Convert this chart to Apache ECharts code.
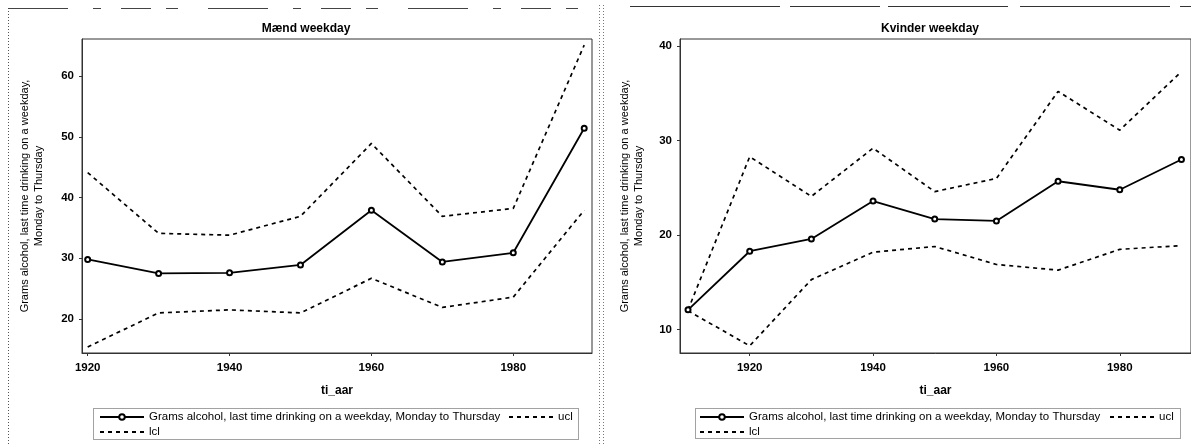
<!DOCTYPE html>
<html>
<head>
<meta charset="utf-8">
<script src="https://cdn.jsdelivr.net/npm/echarts@6/dist/echarts.min.js"></script>
<style>
html,body{margin:0;padding:0;background:#fff;}
#c{width:1191px;height:444px;}
</style>
</head>
<body>
<div id="c"></div>
<script>
// ---- data ----
const titleMen = 'Mænd weekday';
const titleWomen = 'Kvinder weekday';
const yAxisName = 'Grams alcohol, last time drinking on a weekday,\nMonday to Thursday';
const xAxisName = 'ti_aar';
const meanName = 'Grams alcohol, last time drinking on a weekday, Monday to Thursday';
const uclName = 'ucl';
const lclName = 'lcl';

const yearsMen = [1920, 1930, 1940, 1950, 1960, 1970, 1980, 1990];
const menMean = [29.8, 27.5, 27.6, 28.9, 37.9, 29.4, 30.9, 51.4];
const menUcl  = [44.1, 34.1, 33.8, 36.9, 48.9, 36.9, 38.2, 65.1];
const menLcl  = [15.4, 21.0, 21.5, 21.0, 26.7, 21.9, 23.6, 37.9];

const yearsWomen = [1910, 1920, 1930, 1940, 1950, 1960, 1970, 1980, 1990];
const womenMean = [12.1, 18.3, 19.6, 23.6, 21.7, 21.5, 25.7, 24.8, 28.0];
const womenUcl  = [12.1, 28.3, 24.1, 29.2, 24.6, 26.0, 35.2, 31.1, 37.3];
const womenLcl  = [12.0, 8.3, 15.3, 18.2, 18.8, 16.9, 16.3, 18.5, 18.9];

const xTicksMen = [1920, 1940, 1960, 1980];
const xTicksWomen = [1920, 1940, 1960, 1980];
const yTicksMen = [20, 30, 40, 50, 60];
const yTicksWomen = [10, 20, 30, 40];

// ---- chart ----
const FONT = '"Liberation Sans", Arial, sans-serif';
const pairs = (xs, ys) => xs.map((x, i) => [x, ys[i]]);

function xAxis(gridIndex, min, max, ticks) {
  return {
    type: 'value', gridIndex, min, max,
    name: xAxisName, nameLocation: 'middle', nameGap: 32,
    nameTextStyle: { fontFamily: FONT, fontSize: 12, fontWeight: 'bold', color: '#000' },
    axisLine: { show: true, onZero: false, lineStyle: { color: '#333', width: 1 } },
    axisTick: { show: true, length: 3, customValues: ticks, lineStyle: { color: '#333' } },
    axisLabel: { customValues: ticks, margin: 9, formatter: v => String(v),
      fontFamily: FONT, fontSize: 11.5, fontWeight: 'bold', color: '#000' },
    splitLine: { show: false }
  };
}
function yAxis(gridIndex, min, max, ticks, gap) {
  return {
    type: 'value', gridIndex, min, max,
    name: yAxisName, nameLocation: 'middle', nameGap: gap,
    nameTextStyle: { fontFamily: FONT, fontSize: 11, color: '#000', lineHeight: 14, align: 'center' },
    axisLine: { show: true, onZero: false, lineStyle: { color: '#333', width: 1 } },
    axisTick: { show: true, length: 3, customValues: ticks, lineStyle: { color: '#333' } },
    axisLabel: { customValues: ticks, margin: 8, formatter: v => String(v),
      fontFamily: FONT, fontSize: 11.5, fontWeight: 'bold', color: '#000' },
    splitLine: { show: false }
  };
}
function meanSeries(idx, xs, ys) {
  return {
    name: meanName, type: 'line', xAxisIndex: idx, yAxisIndex: idx,
    data: pairs(xs, ys), symbol: 'emptyCircle', symbolSize: 5,
    lineStyle: { color: '#000', width: 1.8 },
    itemStyle: { color: '#000', borderColor: '#000', borderWidth: 1.2 },
    animation: false, z: 3
  };
}
function ciSeries(name, idx, xs, ys) {
  return {
    name, type: 'line', xAxisIndex: idx, yAxisIndex: idx,
    data: pairs(xs, ys), symbol: 'none',
    lineStyle: { color: '#000', width: 1.7, type: [4, 4] },
    itemStyle: { color: '#000' },
    animation: false, z: 2
  };
}
function legend(left, top, name, hideSymbol) {
  const l = {
    left, top, padding: 0, data: [name], itemWidth: 44, itemHeight: 7, itemGap: 5,
    selectedMode: false,
    textStyle: { fontFamily: FONT, fontSize: 11.5, color: '#000' }
  };
  if (hideSymbol) l.itemStyle = { opacity: 0 };
  return l;
}

const chart = echarts.init(document.getElementById('c'), null, { renderer: 'canvas' });
chart.setOption({
  backgroundColor: '#fff',
  animation: false,
  title: [
    { text: titleMen, left: 301, top: 18, textAlign: 'center',
      textStyle: { fontFamily: FONT, fontSize: 12, fontWeight: 'bold', color: '#000' } },
    { text: titleWomen, left: 925, top: 18, textAlign: 'center',
      textStyle: { fontFamily: FONT, fontSize: 12, fontWeight: 'bold', color: '#000' } }
  ],
  grid: [
    { left: 82, right: 599, top: 39, bottom: 91, show: true, borderColor: '#333', borderWidth: 1, backgroundColor: 'transparent' },
    { left: 680, right: -1, top: 39, bottom: 91, show: true, borderColor: '#333', borderWidth: 1, backgroundColor: 'transparent' }
  ],
  xAxis: [ xAxis(0, 1919.2, 1991.1, xTicksMen), xAxis(1, 1908.7, 1991.55, xTicksWomen) ],
  yAxis: [ yAxis(0, 14.4, 66.1, yTicksMen, 36), yAxis(1, 7.54, 40.74, yTicksWomen, 34) ],
  legend: [
    legend(99, 411, meanName, false), legend(508, 411, uclName, true), legend(99, 426, lclName, true),
    legend(699, 411, meanName, false), legend(1109, 411, uclName, true), legend(699, 426, lclName, true)
  ],
  series: [
    ciSeries(uclName, 0, yearsMen, menUcl),
    ciSeries(lclName, 0, yearsMen, menLcl),
    meanSeries(0, yearsMen, menMean),
    ciSeries(uclName, 1, yearsWomen, womenUcl),
    ciSeries(lclName, 1, yearsWomen, womenLcl),
    meanSeries(1, yearsWomen, womenMean)
  ],
  graphic: [
    // legend frames
    { type: 'rect', shape: { x: 93.5, y: 408.5, width: 485, height: 31 }, style: { fill: 'none', stroke: '#444', lineWidth: 1, lineDash: [1, 1] }, silent: true },
    { type: 'rect', shape: { x: 695.5, y: 408.5, width: 485, height: 30 }, style: { fill: 'none', stroke: '#444', lineWidth: 1, lineDash: [1, 1] }, silent: true },
    // outer frames of the scanned panels
    { type: 'line', shape: { x1: 8.5, y1: 8, x2: 8.5, y2: 444 }, style: { stroke: '#555', lineWidth: 1, lineDash: [1, 2] }, silent: true },
    { type: 'line', shape: { x1: 8, y1: 8.5, x2: 595, y2: 8.5 }, style: { stroke: '#444', lineWidth: 1, lineDash: [60, 25, 8, 20, 30, 15, 12, 30] }, silent: true },
    { type: 'line', shape: { x1: 599.5, y1: 5, x2: 599.5, y2: 444 }, style: { stroke: '#777', lineWidth: 1, lineDash: [1, 2] }, silent: true },
    { type: 'line', shape: { x1: 603.5, y1: 5, x2: 603.5, y2: 444 }, style: { stroke: '#777', lineWidth: 1, lineDash: [1, 2] }, silent: true },
    { type: 'line', shape: { x1: 630, y1: 6.5, x2: 1191, y2: 6.5 }, style: { stroke: '#333', lineWidth: 1.2, lineDash: [150, 10, 90, 8, 120, 12] }, silent: true }
  ]
});
</script>
</body>
</html>
